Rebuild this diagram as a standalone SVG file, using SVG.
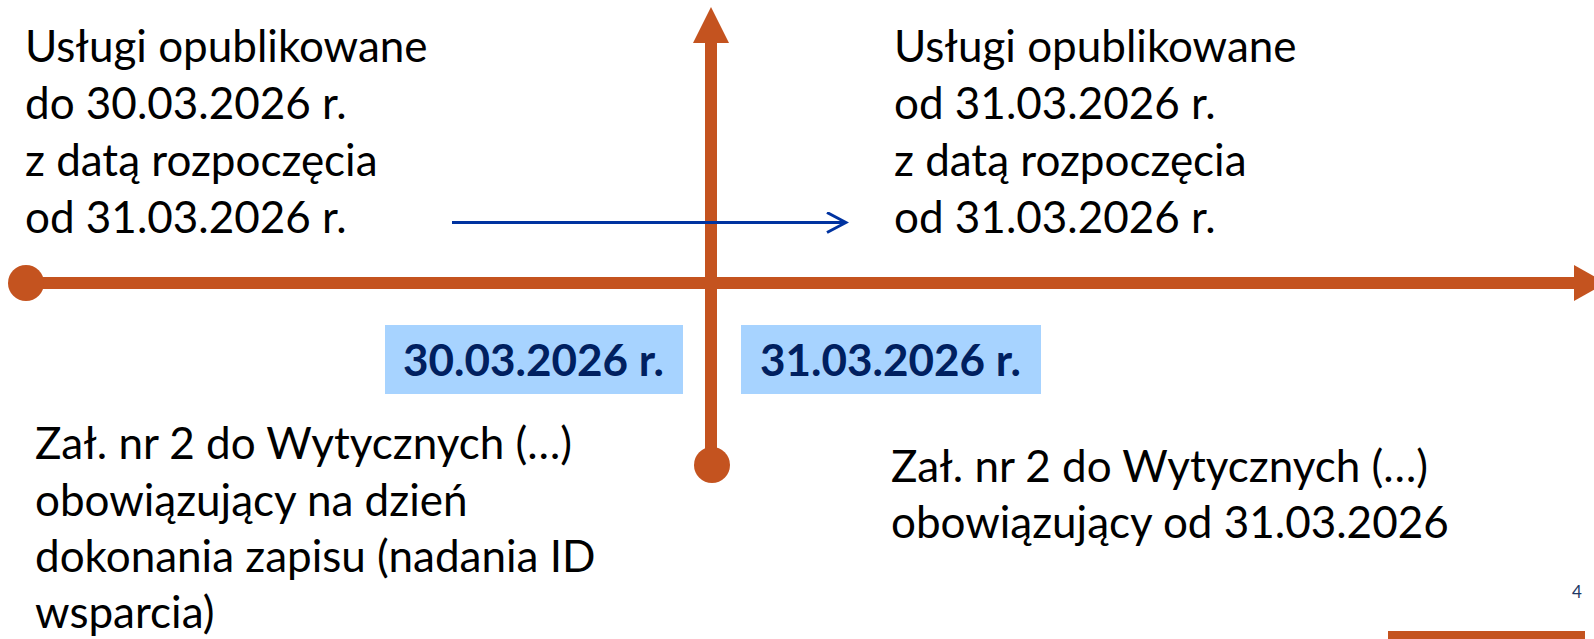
<svg xmlns="http://www.w3.org/2000/svg" width="1594" height="639" viewBox="0 0 1594 639">
<style>
.t{font-family:Lato,"Liberation Sans",sans-serif;font-size:44px;fill:#000}
.d{font-family:Lato,"Liberation Sans",sans-serif;font-size:44px;font-weight:bold;fill:#002060}
.box{fill:#A7D3FF}
.axis{stroke:#C4531F;stroke-width:12;fill:none}
.ax{fill:#C4531F}
</style>
<defs>
<marker id="open" markerWidth="24" markerHeight="24" refX="21" refY="11" orient="auto" markerUnits="userSpaceOnUse">
<path d="M2 1 L21 11 L2 21" fill="none" stroke="#0033A0" stroke-width="3"/>
</marker>
</defs>
<g id="connectors">
<line class="axis" x1="26" y1="283" x2="1576" y2="283"/>
<polygon class="ax" points="1574,265 1606,283 1574,301"/>
<circle class="ax" cx="26" cy="283" r="18"/>
<line class="axis" x1="711" y1="465" x2="711" y2="40"/>
<polygon class="ax" points="693,43 711,7 729,43"/>
<circle class="ax" cx="712" cy="465" r="18"/>
<line x1="452" y1="222.5" x2="846" y2="222.5" stroke="#0033A0" stroke-width="3" marker-end="url(#open)"/>
</g>
<g id="text-top-left">
<text class="t" x="25" y="62">Usługi opublikowane</text>
<text class="t" x="25" y="119">do 30.03.2026 r.</text>
<text class="t" x="25" y="176">z datą rozpoczęcia</text>
<text class="t" x="25" y="233">od 31.03.2026 r.</text>
</g>
<g id="text-top-right">
<text class="t" x="894" y="62">Usługi opublikowane</text>
<text class="t" x="894" y="119">od 31.03.2026 r.</text>
<text class="t" x="894" y="176">z datą rozpoczęcia</text>
<text class="t" x="894" y="233">od 31.03.2026 r.</text>
</g>
<g id="date-1">
<rect class="box" x="385" y="325" width="298" height="69"/>
<text class="d" x="403" y="376">30.03.2026 r.</text>
</g>
<g id="date-2">
<rect class="box" x="741" y="325" width="300" height="69"/>
<text class="d" x="760" y="376">31.03.2026 r.</text>
</g>
<g id="text-bottom-left">
<text class="t" x="35" y="459">Zał. nr 2 do Wytycznych (…)</text>
<text class="t" x="35" y="516">obowiązujący na dzień</text>
<text class="t" x="35" y="572">dokonania zapisu (nadania ID</text>
<text class="t" x="35" y="628">wsparcia)</text>
</g>
<g id="text-bottom-right">
<text class="t" x="891" y="482">Zał. nr 2 do Wytycznych (…)</text>
<text class="t" x="891" y="538">obowiązujący od 31.03.2026</text>
</g>
<g id="footer">
<text x="1572" y="598" font-family="Lato,'Liberation Sans',sans-serif" font-size="17" fill="#203864">4</text>
<rect x="1388" y="631" width="197" height="8" fill="#C4531F"/>
</g>
</svg>
